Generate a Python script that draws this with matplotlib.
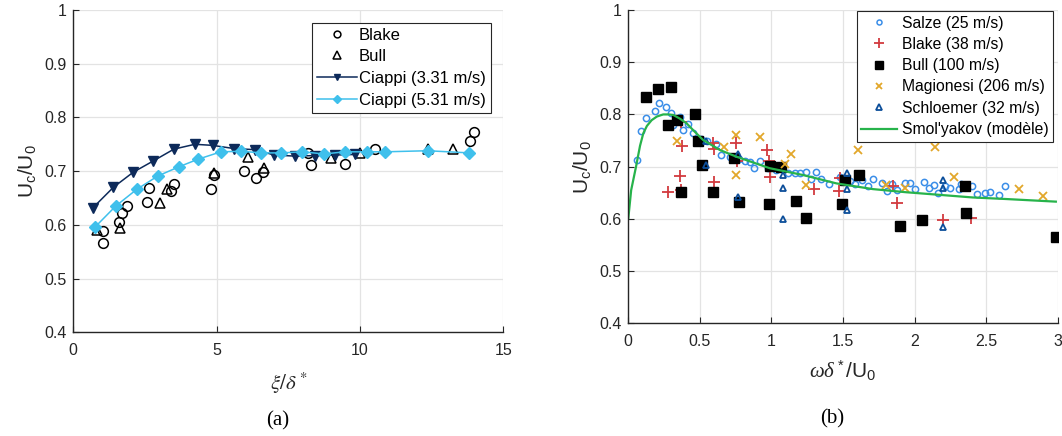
"""Convection velocity ratio Uc/U0: (a) vs spatial separation, (b) vs frequency."""
import matplotlib
matplotlib.use("Agg")
import matplotlib.pyplot as plt
from matplotlib.ticker import FuncFormatter, MultipleLocator

plt.rcParams["font.family"] = ["Liberation Sans", "DejaVu Sans"]
plt.rcParams["mathtext.fontset"] = "custom"
plt.rcParams["mathtext.rm"] = "Liberation Sans"
plt.rcParams["mathtext.it"] = "Liberation Serif:italic"

# ---- panel (a): Uc/U0 vs xi/delta* ----
blake_a_x = [1.02, 1.05, 1.60, 1.69, 1.89, 2.58, 2.64, 3.41, 3.51, 4.80, 4.92,
             5.94, 6.38, 6.63, 8.19, 8.28, 9.47, 10.53, 13.84, 13.98]
blake_a_y = [0.589, 0.566, 0.606, 0.623, 0.635, 0.643, 0.668, 0.663, 0.677, 0.667, 0.693,
             0.701, 0.688, 0.698, 0.733, 0.711, 0.713, 0.742, 0.757, 0.773]

bull_a_x = [0.81, 1.63, 3.01, 3.28, 4.92, 6.11, 6.65, 8.98, 10.01, 12.36, 13.26]
bull_a_y = [0.590, 0.595, 0.641, 0.666, 0.697, 0.727, 0.705, 0.725, 0.734, 0.742, 0.742]

ciappi331_x = [0.67, 1.40, 2.09, 2.79, 3.51, 4.24, 4.86, 5.61, 6.34, 7.01, 7.73, 8.43, 9.13, 9.81]
ciappi331_y = [0.631, 0.670, 0.698, 0.719, 0.741, 0.750, 0.748, 0.742, 0.740, 0.730, 0.728,
               0.729, 0.730, 0.731]

ciappi531_x = [0.76, 1.48, 2.21, 2.95, 3.68, 4.34, 5.15, 5.86, 6.55, 7.25, 7.99, 8.75, 9.47,
               10.25, 10.88, 12.36, 13.81]
ciappi531_y = [0.596, 0.635, 0.666, 0.691, 0.708, 0.722, 0.736, 0.737, 0.734, 0.734, 0.736,
               0.732, 0.736, 0.736, 0.736, 0.738, 0.734]

# ---- panel (b): Uc/U0 vs omega delta*/U0 ----
salze_x = [0.058, 0.089, 0.121, 0.186, 0.214, 0.261, 0.296, 0.314, 0.361, 0.384, 0.418, 0.453,
           0.507, 0.551, 0.616, 0.651, 0.709, 0.772, 0.814, 0.849, 0.879, 0.918, 0.976, 1.035,
           1.116, 1.162, 1.197, 1.244, 1.279, 1.309, 1.344, 1.402, 1.476, 1.546, 1.581, 1.635,
           1.674, 1.709, 1.774, 1.806, 1.841, 1.876, 1.930, 1.969, 2.006, 2.064, 2.104, 2.134,
           2.167, 2.213, 2.248, 2.308, 2.324, 2.399, 2.434, 2.492, 2.527, 2.592, 2.632]
salze_y = [0.713, 0.768, 0.793, 0.807, 0.821, 0.815, 0.803, 0.780, 0.795, 0.770, 0.781, 0.764,
           0.753, 0.749, 0.743, 0.722, 0.718, 0.714, 0.710, 0.708, 0.697, 0.710, 0.697, 0.694,
           0.688, 0.688, 0.688, 0.690, 0.676, 0.689, 0.676, 0.667, 0.680, 0.673, 0.667, 0.674,
           0.663, 0.676, 0.669, 0.653, 0.667, 0.655, 0.668, 0.669, 0.657, 0.670, 0.659, 0.665,
           0.650, 0.663, 0.659, 0.657, 0.667, 0.662, 0.647, 0.649, 0.651, 0.646, 0.662]

blake_b_x = [0.279, 0.367, 0.361, 0.372, 0.365, 0.593, 0.598, 0.598, 0.751, 0.760, 0.972, 0.983,
             0.988, 1.297, 1.471, 1.481, 1.848, 1.876, 2.197, 2.395]
blake_b_y = [0.652, 0.655, 0.682, 0.740, 0.785, 0.746, 0.733, 0.671, 0.745, 0.711, 0.731, 0.711,
             0.681, 0.657, 0.654, 0.678, 0.663, 0.630, 0.598, 0.602]

bull_b_x = [0.123, 0.205, 0.296, 0.275, 0.337, 0.465, 0.484, 0.512, 0.367, 0.589, 0.737, 0.774,
            0.988, 1.065, 0.981, 1.174, 1.244, 1.495, 1.511, 1.609, 1.895, 2.053, 2.355, 2.360,
            2.987]
bull_b_y = [0.834, 0.849, 0.853, 0.780, 0.789, 0.800, 0.750, 0.703, 0.652, 0.652, 0.716, 0.632,
            0.702, 0.700, 0.628, 0.635, 0.601, 0.628, 0.674, 0.684, 0.587, 0.597, 0.663, 0.612,
            0.565]

magionesi_x = [0.342, 0.667, 0.751, 0.751, 0.923, 1.093, 1.135, 1.244, 1.604, 1.802, 1.930,
               2.146, 2.278, 2.727, 2.899]
magionesi_y = [0.750, 0.737, 0.761, 0.684, 0.757, 0.705, 0.724, 0.664, 0.731, 0.665, 0.659,
               0.737, 0.680, 0.657, 0.643]

schloemer_x = [0.542, 0.542, 0.767, 0.767, 1.081, 1.081, 1.081, 1.530, 1.530, 1.530, 2.197,
               2.197, 2.197]
schloemer_y = [0.749, 0.703, 0.724, 0.641, 0.684, 0.660, 0.600, 0.687, 0.657, 0.617, 0.674,
               0.659, 0.584]

smolyakov_x = [0.0, 0.02, 0.054, 0.082, 0.105, 0.130, 0.163, 0.200, 0.244, 0.280, 0.314, 0.360,
               0.407, 0.460, 0.523, 0.639, 0.756, 0.988, 1.22, 1.453, 1.709, 1.941, 2.174,
               2.406, 2.639, 2.987]
smolyakov_y = [0.601, 0.655, 0.700, 0.740, 0.764, 0.778, 0.789, 0.796, 0.800, 0.800, 0.799,
               0.792, 0.783, 0.768, 0.751, 0.732, 0.719, 0.697, 0.684, 0.668, 0.657, 0.651,
               0.646, 0.641, 0.638, 0.633]

TXT = "#262626"
GRID = "#e3e3e3"


def style_axes(ax, xmax, xstep):
    ax.set_xlim(0, xmax)
    ax.set_ylim(0.4, 1.0)
    ax.xaxis.set_major_locator(MultipleLocator(xstep))
    ax.yaxis.set_major_locator(MultipleLocator(0.1))
    fmt = FuncFormatter(lambda v, p: f"{v:g}")
    ax.xaxis.set_major_formatter(fmt)
    ax.yaxis.set_major_formatter(fmt)
    ax.grid(True, color=GRID, linewidth=0.9)
    ax.set_axisbelow(True)
    for side in ("top", "right"):
        ax.spines[side].set_visible(False)
    for side in ("left", "bottom"):
        ax.spines[side].set_color(TXT)
        ax.spines[side].set_linewidth(1.0)
    ax.tick_params(direction="in", length=4, width=0.8, colors=TXT, labelsize=11.5)
    ax.tick_params(axis="x", pad=8)
    ax.tick_params(axis="y", pad=5)


fig = plt.figure(figsize=(10.62, 4.36), dpi=100)
ax1 = fig.add_axes([73.3 / 1062, 1 - 332.3 / 436, 430 / 1062, 322.3 / 436])
ax2 = fig.add_axes([628.3 / 1062, 1 - 323.3 / 436, 429.4 / 1062, 313.3 / 436])

# panel (a)
ax1.plot(blake_a_x, blake_a_y, "o", ms=7, mfc="none", mec="black", mew=1.1, ls="none", label="Blake")
ax1.plot(bull_a_x, bull_a_y, "^", ms=7.5, mfc="none", mec="black", mew=1.1, ls="none", label="Bull")
ax1.plot(ciappi331_x, ciappi331_y, "-v", color="#0d2a5a", lw=1.1, ms=6.5, label="Ciappi (3.31 m/s)")
ax1.plot(ciappi531_x, ciappi531_y, "-D", color="#3fc0ec", lw=1.1, ms=6.3, label="Ciappi (5.31 m/s)")
style_axes(ax1, 15, 5)
ax1.legend(loc="upper right", bbox_to_anchor=(0.971, 0.961), borderaxespad=0,
           fancybox=False, edgecolor=TXT, framealpha=1, fontsize=12, handlelength=2.4,
           labelspacing=0.4, borderpad=0.3, handletextpad=0.1, markerscale=0.7
           ).get_frame().set_linewidth(0.8)
ax1.set_ylabel(r"U$_\mathrm{c}$/U$_\mathrm{0}$", fontsize=15, color=TXT, labelpad=4)
ax1.set_xlabel(r"$\xi/\delta^*$", fontsize=15, color=TXT, math_fontfamily="stix", labelpad=9)
fig.text(278 / 1062, 1 - 421 / 436, "(a)", family="Liberation Serif", fontsize=15,
         ha="center", va="center")

# panel (b)
ax2.plot(salze_x, salze_y, "o", ms=4.5, mfc="none", mec="#3b8ee8", mew=1.1, ls="none",
         label="Salze (25 m/s)")
ax2.plot(blake_b_x, blake_b_y, "+", ms=9, mec="#d23a3f", mew=1.3, ls="none", label="Blake (38 m/s)")
ax2.plot(bull_b_x, bull_b_y, "s", ms=6.5, mfc="black", mec="black", ls="none", label="Bull (100 m/s)")
ax2.plot(magionesi_x, magionesi_y, "x", ms=5.5, mec="#e2a72a", mew=1.3, ls="none",
         label="Magionesi (206 m/s)")
ax2.plot(schloemer_x, schloemer_y, "^", ms=5, mfc="none", mec="#0c4e9a", mew=1.3, ls="none",
         label="Schloemer (32 m/s)")
ax2.plot(smolyakov_x, smolyakov_y, "-", color="#27b34b", lw=1.6, label="Smol'yakov (modèle)")
style_axes(ax2, 3, 0.5)
ax2.legend(loc="upper right", bbox_to_anchor=(0.99, 0.997), borderaxespad=0,
           fancybox=False, edgecolor=TXT, framealpha=1, fontsize=11.3, handlelength=2.3,
           labelspacing=0.4, borderpad=0.3, handletextpad=0.3, markerscale=0.8
           ).get_frame().set_linewidth(0.8)
ax2.set_ylabel(r"U$_\mathrm{c}$/U$_\mathrm{0}$", fontsize=15, color=TXT, labelpad=4)
ax2.set_xlabel(r"$\omega\delta^*$/U$_\mathrm{0}$", fontsize=15, color=TXT, labelpad=7)
fig.text(832 / 1062, 1 - 419 / 436, "(b)", family="Liberation Serif", fontsize=15,
         ha="center", va="center")

fig.savefig("out.png", dpi=100)
